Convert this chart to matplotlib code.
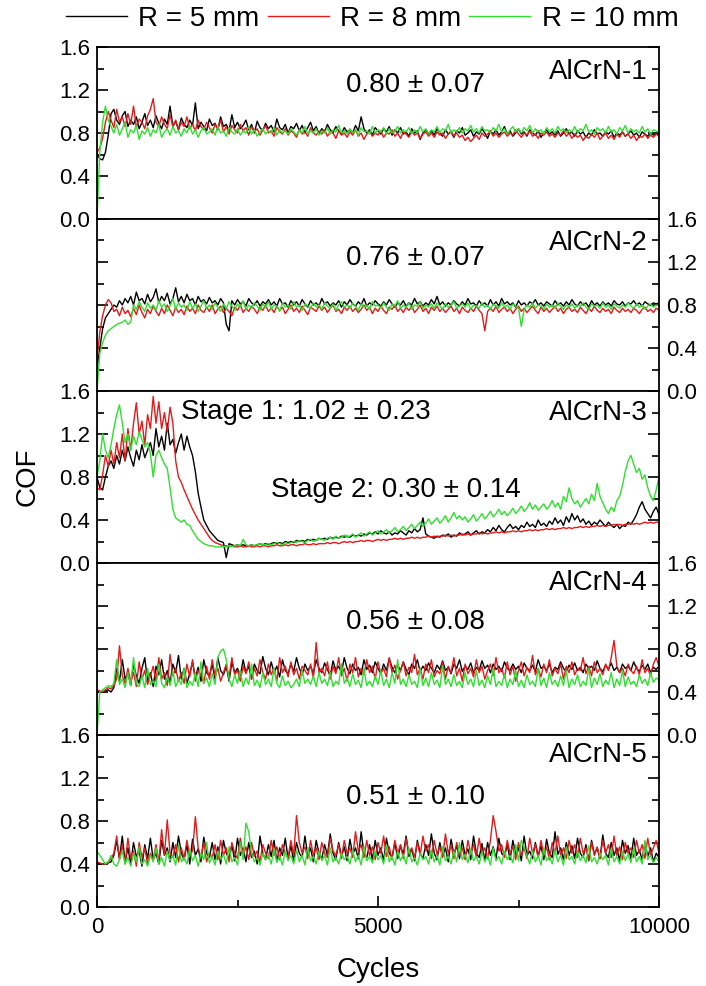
import numpy as np
import matplotlib
matplotlib.use("Agg")
import matplotlib.pyplot as plt
from matplotlib.ticker import MultipleLocator, FormatStrFormatter, FixedLocator
from matplotlib.lines import Line2D

plt.rcParams['font.family'] = ['Liberation Sans', 'DejaVu Sans']

# ---------------- data ----------------
cycles = np.linspace(0, 10000, 201)   # sampled every 50 cycles

series_labels = ["R = 5 mm", "R = 8 mm", "R = 10 mm"]
series_colors = ["#000000", "#e41a1a", "#2ee02e"]
panel_names = ["AlCrN-1", "AlCrN-2", "AlCrN-3", "AlCrN-4", "AlCrN-5"]
panel_means = ["0.80 \u00b1 0.07", "0.76 \u00b1 0.07", None, "0.56 \u00b1 0.08", "0.51 \u00b1 0.10"]
stage_texts = ["Stage 1: 1.02 \u00b1 0.23", "Stage 2: 0.30 \u00b1 0.14"]

# AlCrN-1
a1_r5 = [.60,.56,.55,.62,.78,.98,1.02,.92,.88,.96,
         1.00,.86,.92,.88,.95,.84,.90,.98,.87,.92,
         .85,.96,.89,.84,.93,.88,1.05,.86,.91,.83,
         .94,.88,.85,.92,.87,1.08,.84,.90,.86,.82,
         .93,.87,.89,.83,.95,.86,.88,.82,.97,.85,
         .90,.84,.87,.92,.83,.88,.80,.91,.85,.82,
         .89,.84,.87,.81,.93,.85,.83,.88,.80,.86,
         .84,.89,.82,.87,.80,.85,.90,.82,.86,.79,
         .84,.81,.88,.83,.80,.86,.82,.79,.85,.81,
         .83,.80,.87,.82,.95,.84,.80,.83,.78,.85,
         .82,.79,.84,.81,.86,.78,.83,.80,.85,.79,
         .81,.77,.84,.80,.82,.74,.80,.83,.79,.82,
         .78,.84,.80,.77,.83,.79,.81,.76,.82,.80,
         .85,.78,.80,.83,.77,.81,.79,.84,.80,.75,
         .82,.79,.83,.78,.81,.86,.79,.82,.77,.80,
         .84,.79,.81,.77,.83,.80,.78,.82,.76,.80,
         .83,.79,.81,.78,.82,.77,.80,.84,.79,.81,
         .77,.82,.79,.81,.76,.80,.78,.83,.79,.80,
         .77,.81,.79,.82,.76,.80,.78,.81,.77,.79,
         .82,.78,.80,.76,.81,.79,.77,.80,.78,.79,.78]
a1_r8 = [.62,.66,.75,.90,1.00,.92,.85,1.02,.90,.95,
         .86,.98,.88,1.05,.85,.93,.90,.84,.96,1.02,
         1.12,.90,.86,.95,.88,.84,.97,.86,.92,.83,
         .90,.86,.95,.84,.88,.82,.92,.86,.83,.90,
         .85,.80,.88,.84,.92,.81,.86,.79,.87,.83,
         .80,.88,.82,.85,.78,.86,.81,.84,.78,.83,
         .87,.80,.82,.77,.85,.81,.79,.84,.78,.82,
         .80,.76,.83,.79,.81,.77,.85,.80,.78,.82,
         .79,.83,.77,.81,.80,.75,.82,.78,.80,.76,
         .81,.78,.83,.77,.80,.74,.79,.82,.77,.80,
         .78,.82,.76,.80,.79,.83,.77,.80,.75,.81,
         .79,.76,.82,.78,.80,.75,.79,.81,.77,.80,
         .76,.81,.78,.80,.75,.79,.82,.77,.80,.76,
         .78,.73,.76,.72,.75,.78,.74,.80,.77,.79,
         .82,.77,.80,.76,.79,.81,.77,.80,.78,.83,
         .79,.76,.80,.78,.82,.77,.79,.75,.80,.78,
         .81,.77,.79,.76,.80,.78,.82,.77,.80,.75,
         .79,.76,.78,.73,.77,.75,.79,.76,.80,.74,
         .77,.80,.75,.78,.74,.79,.76,.81,.77,.79,
         .75,.78,.73,.77,.76,.79,.75,.78,.76,.79,.77]
a1_r10 = [.00,.62,.90,1.05,.92,.86,.80,.88,.78,.84,
          .90,.76,.83,.80,.87,.74,.82,.79,.85,.77,
          .83,.80,.88,.76,.81,.84,.78,.86,.80,.82,
          .77,.84,.80,.87,.79,.83,.76,.82,.85,.79,
          .81,.84,.78,.86,.80,.82,.77,.85,.81,.79,
          .84,.78,.82,.80,.86,.79,.83,.77,.81,.84,
          .79,.82,.80,.85,.78,.83,.80,.82,.79,.84,
          .81,.78,.83,.80,.86,.79,.82,.80,.84,.78,
          .82,.80,.85,.79,.83,.81,.87,.80,.82,.79,
          .84,.80,.83,.78,.85,.81,.82,.79,.86,.80,
          .83,.81,.85,.79,.84,.80,.82,.86,.80,.83,
          .81,.85,.79,.83,.80,.86,.81,.84,.79,.83,
          .81,.86,.80,.84,.82,.88,.80,.83,.81,.85,
          .80,.84,.82,.87,.81,.84,.80,.86,.82,.83,
          .80,.85,.82,.88,.81,.84,.79,.83,.86,.81,
          .84,.80,.85,.82,.87,.80,.84,.81,.83,.79,
          .85,.81,.84,.80,.86,.82,.84,.80,.83,.81,
          .86,.80,.84,.82,.88,.81,.83,.79,.85,.82,
          .84,.80,.86,.81,.83,.79,.85,.82,.87,.80,
          .84,.81,.83,.80,.86,.81,.84,.79,.83,.82,.81]

# AlCrN-2
a2_r5 = [.20,.40,.58,.68,.72,.76,.80,.78,.84,.80,
         .86,.82,.88,.80,.92,.84,.86,.81,.90,.83,
         .87,.95,.82,.88,.84,.91,.81,.86,.96,.83,
         .88,.82,.90,.84,.86,.80,.88,.83,.85,.81,
         .87,.82,.84,.80,.86,.82,.62,.56,.84,.80,
         .85,.81,.83,.79,.86,.82,.80,.84,.79,.83,
         .81,.85,.80,.83,.79,.86,.81,.82,.78,.84,
         .80,.83,.79,.85,.81,.78,.84,.80,.82,.79,
         .86,.81,.83,.79,.82,.80,.84,.78,.83,.80,
         .85,.81,.79,.83,.80,.86,.79,.82,.80,.84,
         .81,.79,.83,.80,.85,.81,.78,.82,.80,.84,
         .79,.82,.80,.86,.81,.83,.79,.82,.80,.85,
         .81,.88,.80,.83,.79,.82,.80,.84,.81,.79,
         .83,.80,.86,.81,.82,.79,.84,.80,.82,.79,
         .85,.80,.83,.79,.86,.81,.83,.80,.82,.78,
         .84,.80,.82,.79,.83,.81,.85,.80,.82,.79,
         .83,.81,.79,.84,.80,.82,.79,.83,.80,.85,
         .81,.79,.83,.80,.82,.78,.84,.80,.82,.79,
         .83,.80,.82,.79,.84,.81,.80,.83,.79,.82,
         .81,.84,.80,.82,.79,.83,.81,.80,.82,.81,.82]
a2_r8 = [.30,.55,.70,.80,.85,.82,.74,.76,.70,.78,
         .72,.75,.69,.77,.71,.80,.73,.68,.76,.72,
         .79,.74,.70,.77,.72,.80,.75,.70,.78,.73,
         .76,.71,.79,.74,.77,.72,.80,.75,.73,.78,
         .74,.80,.72,.76,.79,.73,.77,.74,.70,.78,
         .75,.80,.73,.77,.74,.79,.76,.72,.78,.75,
         .80,.74,.77,.73,.79,.75,.78,.72,.76,.80,
         .74,.77,.73,.79,.75,.71,.78,.76,.74,.79,
         .75,.78,.73,.77,.80,.74,.76,.72,.78,.75,
         .79,.74,.77,.73,.76,.80,.75,.78,.72,.77,
         .74,.79,.75,.72,.78,.76,.80,.74,.77,.73,
         .78,.75,.79,.73,.76,.80,.74,.77,.72,.78,
         .75,.79,.74,.77,.73,.76,.79,.74,.77,.72,
         .78,.75,.73,.77,.74,.79,.75,.72,.56,.74,
         .77,.74,.79,.73,.76,.78,.74,.77,.72,.76,
         .79,.74,.77,.73,.76,.79,.75,.72,.78,.74,
         .77,.73,.76,.79,.74,.77,.72,.76,.78,.74,
         .76,.73,.78,.75,.72,.77,.74,.79,.75,.73,
         .77,.74,.76,.72,.78,.75,.73,.77,.74,.76,
         .73,.77,.75,.72,.76,.78,.74,.76,.73,.77,.75]
a2_r10 = [.00,.35,.45,.52,.56,.58,.60,.62,.63,.64,
          .66,.62,.64,.80,.76,.83,.78,.74,.82,.77,
          .80,.75,.84,.78,.81,.74,.79,.86,.76,.82,
          .78,.80,.75,.83,.77,.81,.74,.79,.84,.77,
          .80,.76,.82,.78,.74,.81,.77,.83,.79,.75,
          .81,.78,.84,.76,.80,.77,.82,.79,.75,.81,
          .78,.83,.76,.80,.79,.74,.82,.78,.80,.76,
          .83,.78,.80,.75,.81,.79,.77,.82,.78,.80,
          .76,.82,.79,.77,.81,.75,.80,.83,.78,.80,
          .77,.82,.79,.75,.81,.78,.80,.76,.83,.79,
          .80,.77,.82,.78,.75,.81,.79,.84,.77,.80,
          .78,.82,.76,.80,.79,.83,.77,.80,.78,.81,
          .77,.82,.79,.76,.81,.78,.80,.83,.77,.79,
          .81,.78,.82,.76,.80,.79,.77,.82,.78,.80,
          .76,.81,.79,.77,.82,.78,.80,.76,.81,.79,
          .77,.60,.76,.80,.78,.82,.77,.80,.79,.76,
          .81,.78,.80,.77,.82,.79,.76,.80,.78,.81,
          .77,.80,.79,.82,.78,.76,.81,.79,.80,.77,
          .82,.78,.80,.76,.81,.79,.77,.80,.78,.82,
          .79,.77,.81,.78,.80,.76,.79,.81,.78,.80,.79]

# AlCrN-3
a3_r5 = [.80,.70,.68,.80,.90,.95,.88,1.00,.92,1.05,
         .95,1.08,.98,.90,1.05,.96,1.10,.98,1.05,1.12,
         1.00,1.25,1.08,1.18,1.05,1.30,1.10,1.15,1.02,1.12,
         1.20,1.05,1.18,1.08,1.00,.85,.65,.52,.40,.35,
         .30,.27,.24,.21,.20,.19,.05,.18,.17,.16,
         .17,.16,.17,.16,.16,.17,.16,.17,.18,.17,
         .18,.17,.18,.19,.18,.19,.18,.20,.19,.20,
         .19,.21,.20,.21,.20,.22,.21,.22,.21,.23,
         .22,.23,.22,.24,.23,.24,.23,.25,.24,.25,
         .24,.26,.25,.26,.25,.27,.26,.28,.27,.29,
         .27,.30,.28,.27,.29,.26,.28,.27,.30,.28,
         .26,.30,.28,.32,.29,.31,.42,.27,.25,.24,
         .23,.25,.24,.26,.25,.27,.24,.26,.25,.28,
         .26,.27,.29,.26,.28,.30,.27,.29,.28,.31,
         .29,.33,.30,.35,.31,.29,.33,.36,.32,.34,
         .31,.35,.33,.38,.34,.36,.33,.40,.35,.37,
         .34,.39,.36,.42,.37,.40,.35,.43,.38,.46,
         .40,.44,.38,.41,.36,.39,.35,.38,.36,.40,
         .37,.34,.38,.35,.33,.36,.32,.35,.34,.38,
         .36,.40,.45,.52,.57,.50,.46,.42,.48,.52,.45]
a3_r8 = [.70,.68,.82,1.00,.90,1.05,.92,1.12,.98,1.20,
         .95,1.25,1.05,1.30,1.49,1.20,1.32,1.10,1.38,1.25,
         1.55,1.30,1.50,1.25,1.40,1.22,1.45,1.30,.95,.80,
         .75,.68,.62,.56,.50,.45,.40,.36,.32,.28,
         .24,.21,.19,.18,.17,.16,.16,.15,.16,.15,
         .15,.16,.15,.15,.16,.15,.15,.16,.15,.16,
         .16,.15,.16,.16,.17,.16,.16,.17,.16,.17,
         .17,.16,.17,.17,.18,.17,.17,.18,.17,.18,
         .18,.18,.19,.18,.19,.19,.18,.19,.20,.19,
         .20,.19,.20,.20,.21,.20,.21,.21,.20,.21,
         .22,.21,.22,.21,.22,.22,.23,.22,.23,.22,
         .23,.23,.24,.23,.24,.23,.24,.24,.25,.24,
         .25,.24,.25,.25,.26,.25,.26,.25,.26,.26,
         .27,.26,.27,.26,.27,.27,.28,.27,.28,.27,
         .28,.28,.29,.28,.29,.28,.29,.29,.30,.29,
         .30,.29,.30,.30,.31,.30,.31,.30,.31,.31,
         .32,.31,.32,.31,.32,.32,.33,.32,.33,.32,
         .33,.33,.34,.33,.34,.33,.34,.34,.35,.34,
         .35,.34,.35,.35,.36,.35,.36,.35,.36,.36,
         .37,.36,.37,.36,.37,.38,.37,.38,.37,.38,.38]
a3_r10 = [.80,.95,1.20,1.05,.98,1.10,1.25,1.38,1.47,1.30,
          1.12,1.20,1.05,1.18,1.10,1.22,1.15,1.08,1.12,1.02,
          .80,1.00,1.05,.98,.92,.88,.70,.50,.42,.40,
          .38,.40,.36,.35,.30,.26,.22,.20,.18,.17,
          .16,.16,.15,.15,.15,.15,.15,.16,.15,.16,
          .17,.16,.22,.17,.16,.17,.16,.17,.18,.17,
          .17,.18,.17,.18,.19,.18,.17,.19,.18,.19,
          .20,.19,.21,.20,.19,.21,.22,.20,.21,.23,
          .22,.21,.23,.24,.22,.25,.23,.24,.26,.24,
          .25,.27,.24,.26,.28,.25,.27,.29,.26,.28,
          .30,.27,.29,.31,.28,.30,.33,.29,.31,.34,
          .30,.33,.36,.32,.35,.38,.34,.37,.41,.36,
          .39,.42,.37,.40,.44,.38,.42,.47,.41,.44,
          .40,.43,.38,.41,.45,.39,.42,.46,.41,.44,
          .48,.43,.46,.50,.45,.48,.44,.47,.51,.46,
          .49,.53,.48,.51,.56,.50,.54,.49,.52,.55,
          .50,.53,.58,.52,.56,.50,.62,.57,.70,.60,
          .55,.58,.52,.56,.60,.55,.64,.58,.74,.62,
          .56,.50,.46,.52,.48,.58,.62,.72,.85,.95,
          1.00,.92,.84,.88,.78,.82,.70,.62,.58,.68,.80]

# AlCrN-4
a4_r5 = [.40,.40,.40,.41,.42,.40,.44,.62,.50,.70,
         .52,.58,.46,.66,.55,.48,.62,.72,.50,.58,
         .45,.64,.56,.70,.52,.60,.48,.66,.58,.74,
         .52,.62,.48,.57,.68,.53,.63,.50,.70,.58,
         .55,.66,.52,.72,.60,.56,.64,.50,.68,.58,
         .62,.55,.70,.58,.64,.52,.66,.60,.57,.73,
         .62,.56,.68,.58,.64,.54,.70,.60,.57,.66,
         .59,.72,.62,.56,.66,.60,.64,.57,.70,.62,
         .58,.67,.61,.55,.69,.60,.64,.58,.72,.62,
         .57,.66,.60,.63,.56,.70,.61,.65,.58,.68,
         .62,.57,.66,.60,.71,.63,.58,.65,.60,.68,
         .61,.56,.66,.62,.70,.59,.64,.60,.67,.62,
         .58,.65,.61,.69,.60,.63,.57,.66,.62,.70,
         .59,.64,.61,.67,.58,.63,.60,.69,.62,.65,
         .58,.66,.61,.64,.59,.68,.62,.60,.66,.61,
         .64,.58,.67,.62,.60,.65,.59,.70,.62,.64,
         .60,.66,.58,.63,.61,.68,.62,.59,.65,.61,
         .67,.60,.63,.58,.66,.62,.64,.60,.69,.62,
         .59,.65,.61,.67,.60,.63,.58,.66,.62,.64,
         .60,.68,.62,.59,.65,.61,.66,.58,.63,.61,.64]
a4_r8 = [.42,.41,.40,.42,.44,.43,.46,.52,.83,.55,
         .48,.62,.50,.58,.45,.68,.52,.60,.47,.55,
         .64,.50,.72,.52,.58,.46,.75,.55,.62,.50,
         .58,.48,.66,.54,.70,.50,.60,.56,.48,.64,
         .52,.70,.55,.62,.50,.58,.66,.53,.72,.56,
         .60,.50,.64,.57,.68,.52,.62,.55,.70,.58,
         .52,.66,.56,.62,.50,.72,.58,.64,.54,.68,
         .56,.62,.52,.64,.60,.56,.66,.53,.86,.58,
         .62,.55,.68,.52,.64,.57,.72,.55,.62,.50,
         .66,.58,.72,.54,.62,.56,.70,.58,.64,.52,
         .68,.57,.62,.54,.72,.58,.65,.52,.60,.68,
         .55,.63,.58,.75,.56,.62,.52,.66,.58,.70,
         .54,.60,.57,.68,.52,.64,.58,.72,.55,.62,
         .50,.66,.57,.62,.54,.70,.58,.64,.52,.60,
         .66,.55,.72,.58,.62,.53,.68,.56,.64,.50,
         .60,.68,.55,.63,.58,.74,.56,.62,.54,.66,
         .58,.70,.55,.62,.57,.66,.52,.64,.58,.68,
         .56,.62,.60,.72,.57,.64,.55,.68,.58,.62,
         .56,.66,.60,.72,.88,.64,.58,.62,.55,.66,
         .60,.57,.64,.56,.70,.58,.62,.55,.66,.72,.64]
a4_r10 = [.00,.40,.42,.44,.46,.45,.48,.70,.47,.52,
          .44,.58,.46,.72,.48,.45,.55,.44,.62,.47,
          .50,.45,.66,.48,.44,.54,.46,.60,.45,.52,
          .47,.62,.44,.50,.46,.58,.45,.68,.48,.53,
          .45,.57,.47,.72,.78,.80,.70,.52,.45,.56,
          .48,.60,.45,.53,.47,.66,.46,.51,.44,.58,
          .47,.52,.45,.62,.48,.44,.55,.46,.50,.44,
          .47,.52,.45,.60,.48,.52,.47,.55,.45,.58,
          .48,.52,.46,.58,.45,.50,.47,.66,.48,.53,
          .45,.57,.47,.51,.44,.62,.46,.50,.45,.55,
          .47,.60,.46,.52,.44,.58,.48,.70,.47,.52,
          .45,.56,.47,.50,.44,.62,.46,.53,.45,.58,
          .47,.51,.44,.64,.47,.52,.45,.56,.46,.50,
          .44,.58,.47,.52,.45,.60,.46,.51,.44,.55,
          .47,.62,.45,.50,.46,.57,.44,.52,.47,.60,
          .45,.51,.44,.56,.47,.50,.45,.62,.46,.53,
          .44,.58,.47,.51,.45,.55,.46,.60,.44,.52,
          .47,.56,.45,.50,.46,.62,.44,.53,.47,.57,
          .45,.51,.47,.58,.44,.52,.46,.60,.45,.54,
          .47,.50,.45,.56,.48,.52,.46,.58,.49,.53,.51]

# AlCrN-5
a5_r5 = [.40,.40,.40,.40,.41,.42,.48,.62,.45,.66,
         .42,.55,.40,.60,.47,.52,.38,.58,.45,.64,
         .44,.50,.40,.62,.48,.55,.42,.60,.46,.66,
         .50,.44,.58,.40,.63,.48,.54,.42,.65,.50,
         .46,.60,.44,.56,.40,.62,.50,.45,.58,.43,
         .64,.48,.55,.42,.60,.46,.52,.40,.66,.50,
         .44,.58,.47,.62,.42,.55,.48,.64,.45,.57,
         .43,.60,.50,.46,.66,.48,.55,.42,.62,.50,
         .45,.58,.48,.68,.50,.44,.60,.47,.56,.43,
         .63,.49,.55,.45,.70,.50,.46,.58,.44,.62,
         .48,.55,.43,.64,.50,.46,.60,.45,.57,.49,
         .66,.47,.54,.43,.62,.50,.45,.58,.48,.68,
         .50,.44,.60,.47,.55,.42,.63,.49,.57,.45,
         .62,.48,.54,.44,.66,.50,.46,.59,.43,.60,
         .48,.56,.45,.64,.50,.47,.58,.44,.62,.49,
         .55,.43,.66,.48,.52,.45,.60,.47,.57,.44,
         .63,.50,.46,.70,.49,.55,.44,.60,.48,.57,
         .45,.64,.50,.46,.58,.43,.62,.49,.55,.45,
         .67,.50,.46,.60,.48,.55,.43,.62,.50,.57,
         .45,.64,.48,.53,.44,.60,.47,.55,.42,.50,.46]
a5_r8 = [.42,.41,.40,.40,.42,.45,.50,.66,.44,.58,
         .40,.64,.45,.52,.38,.60,.46,.55,.40,.50,
         .44,.58,.42,.72,.48,.81,.50,.46,.58,.42,
         .55,.45,.62,.48,.52,.84,.55,.45,.60,.42,
         .50,.46,.58,.44,.62,.48,.55,.42,.60,.50,
         .45,.64,.48,.56,.44,.60,.47,.52,.42,.58,
         .50,.45,.62,.48,.56,.44,.58,.50,.46,.62,
         .48,.85,.60,.50,.56,.45,.62,.48,.55,.44,
         .60,.50,.46,.64,.52,.48,.58,.45,.62,.50,
         .55,.46,.70,.52,.58,.46,.62,.48,.56,.44,
         .60,.50,.66,.47,.56,.44,.62,.50,.58,.45,
         .64,.50,.55,.46,.60,.48,.66,.52,.58,.45,
         .62,.49,.56,.46,.68,.50,.58,.45,.60,.48,
         .55,.44,.62,.50,.58,.46,.64,.49,.55,.45,
         .62,.85,.70,.52,.58,.46,.62,.50,.56,.44,
         .60,.48,.55,.45,.64,.50,.58,.46,.62,.48,
         .56,.44,.60,.50,.66,.48,.55,.45,.62,.50,
         .58,.46,.64,.50,.55,.44,.60,.48,.56,.45,
         .62,.50,.58,.46,.66,.48,.56,.44,.60,.50,
         .55,.46,.62,.50,.58,.45,.64,.48,.55,.62,.50]
a5_r10 = [.52,.48,.44,.40,.42,.48,.40,.38,.44,.52,
          .40,.46,.38,.50,.42,.56,.40,.44,.38,.48,
          .42,.55,.40,.46,.38,.52,.43,.48,.39,.58,
          .42,.46,.40,.54,.43,.48,.38,.50,.44,.60,
          .41,.47,.39,.52,.44,.49,.40,.56,.42,.46,
          .39,.60,.44,.78,.70,.50,.42,.46,.39,.50,
          .44,.48,.40,.54,.42,.47,.39,.52,.43,.48,
          .40,.53,.42,.48,.39,.55,.43,.47,.40,.52,
          .43,.48,.39,.55,.42,.46,.40,.50,.44,.47,
          .40,.53,.42,.48,.39,.56,.43,.47,.41,.52,
          .44,.48,.40,.58,.42,.47,.39,.52,.43,.49,
          .40,.55,.42,.46,.39,.50,.44,.47,.40,.53,
          .42,.48,.39,.56,.43,.47,.40,.52,.42,.60,
          .44,.49,.41,.54,.43,.47,.40,.51,.42,.48,
          .39,.55,.43,.47,.40,.52,.44,.48,.41,.58,
          .43,.62,.56,.47,.40,.52,.42,.48,.39,.55,
          .43,.47,.40,.53,.42,.48,.39,.56,.44,.47,
          .40,.52,.43,.48,.41,.57,.42,.46,.40,.50,
          .44,.48,.39,.54,.42,.47,.40,.52,.43,.49,
          .41,.55,.42,.47,.40,.62,.44,.48,.41,.46,.42]

panels = [
    [a1_r5, a1_r8, a1_r10],
    [a2_r5, a2_r8, a2_r10],
    [a3_r5, a3_r8, a3_r10],
    [a4_r5, a4_r8, a4_r10],
    [a5_r5, a5_r8, a5_r10],
]

# ---------------- layout ----------------
W, H = 706, 986
fig = plt.figure(figsize=(W / 100, H / 100), dpi=100)

left_px, right_px = 97, 659
top_px, bottom_px = 47, 907
ph = (bottom_px - top_px) / 5.0

tick_fs = 16
text_fs = 20

name_y = [0.855, 0.86, 0.872, 0.884, 0.884]
mean_y = [0.779, 0.773, None, 0.657, 0.64]

axes = []
for k in range(5):
    y0 = H - (top_px + (k + 1) * ph)
    ax = fig.add_axes([left_px / W, y0 / H, (right_px - left_px) / W, ph / H])
    axes.append(ax)
    for s, col in zip(panels[k], series_colors):
        ax.plot(cycles, s, color=col, lw=1.0)
    ax.set_xlim(0, 10000)
    ax.set_ylim(0, 1.6)
    ax.yaxis.set_major_locator(MultipleLocator(0.4))
    ax.yaxis.set_minor_locator(MultipleLocator(0.2))
    ax.yaxis.set_major_formatter(FormatStrFormatter('%.1f'))
    right_labels = (k % 2 == 1)
    ax.tick_params(axis='y', which='both', direction='in', left=True, right=True,
                   labelleft=not right_labels, labelright=right_labels,
                   labelsize=tick_fs, width=1.2, pad=5)
    ax.tick_params(axis='y', which='major', length=8)
    ax.tick_params(axis='y', which='minor', length=5)
    for sp in ax.spines.values():
        sp.set_linewidth(1.3)
    if k < 4:
        ax.tick_params(axis='x', which='both', bottom=False, top=False, labelbottom=False)
    else:
        ax.xaxis.set_major_locator(FixedLocator([0, 5000, 10000]))
        ax.xaxis.set_minor_locator(FixedLocator([2500, 7500]))
        ax.tick_params(axis='x', which='both', direction='in', top=False,
                       labelsize=tick_fs, width=1.2, pad=7)
        ax.tick_params(axis='x', which='major', length=8)
        ax.tick_params(axis='x', which='minor', length=5)
    ax.text(0.979, name_y[k], panel_names[k], transform=ax.transAxes,
            ha='right', va='center', fontsize=text_fs)
    if panel_means[k] is not None:
        ax.text(0.566, mean_y[k], panel_means[k], transform=ax.transAxes,
                ha='center', va='center', fontsize=text_fs)

axes[2].text(0.149, 0.878, stage_texts[0], transform=axes[2].transAxes,
             ha='left', va='center', fontsize=text_fs)
axes[2].text(0.31, 0.424, stage_texts[1], transform=axes[2].transAxes,
             ha='left', va='center', fontsize=text_fs)

fig.text(28 / W, 1 - 477 / H, "COF", rotation=90, ha='center', va='center', fontsize=text_fs)
fig.text(378 / W, 1 - 970 / H, "Cycles", ha='center', va='center', fontsize=text_fs)

handles = [Line2D([], [], color=c, lw=1.0) for c in series_colors]
fig.legend(handles, series_labels, loc='center', bbox_to_anchor=(372 / W, 1 - 19 / H),
           ncol=3, frameon=False, fontsize=text_fs, handlelength=2.2,
           handletextpad=0.4, columnspacing=0.3, borderpad=0, borderaxespad=0)

fig.savefig("out.png", dpi=100)
